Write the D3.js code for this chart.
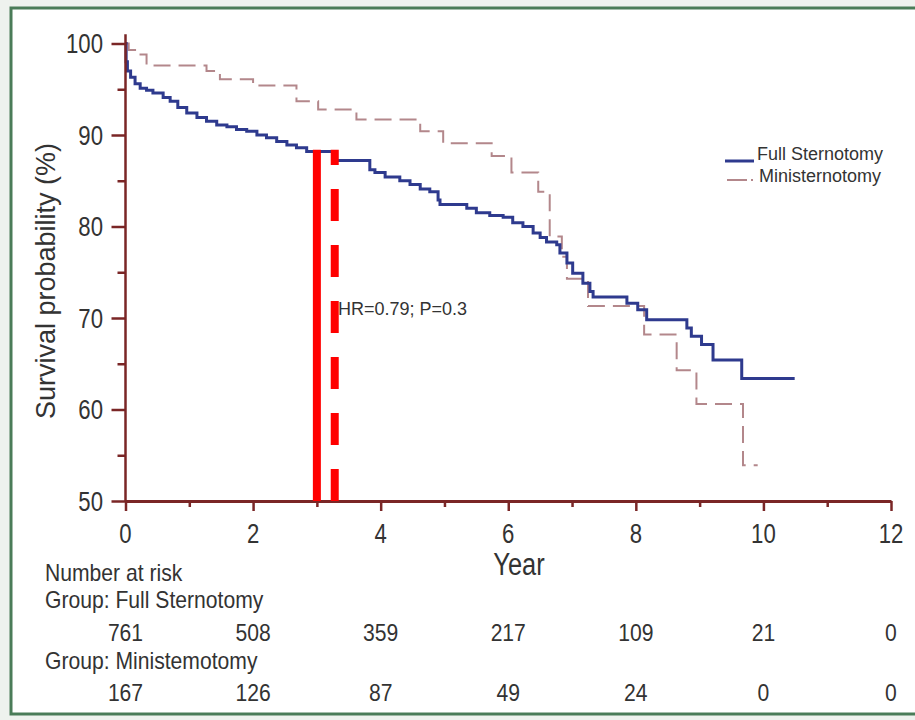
<!DOCTYPE html>
<html>
<head>
<meta charset="utf-8">
<script src="https://cdn.jsdelivr.net/npm/d3@7"></script>
<style>
  html, body { margin: 0; padding: 0; background: #eef2ee; }
  svg { display: block; }
  text { font-family: "Liberation Sans", Arial, sans-serif; fill: #333; }
</style>
</head>
<body>
<svg id="chart" width="915" height="720"></svg>
<script>
// Kaplan-Meier step points: year of each step and survival (%) after it
const fullYears = [0, 0.01, 0.03, 0.08, 0.15, 0.23, 0.33, 0.43, 0.59, 0.70, 0.82, 0.96, 1.12, 1.27, 1.43, 1.59,
  1.74, 1.90, 2.06, 2.21, 2.37, 2.53, 2.68, 2.84, 3.31, 3.83, 3.91, 4.07, 4.30, 4.46, 4.62, 4.77, 4.90, 4.93,
  5.35, 5.50, 5.71, 5.92, 6.07, 6.23, 6.39, 6.50, 6.60, 6.76, 6.81, 6.92, 7.01, 7.17, 7.28, 7.33, 7.86, 8.03,
  8.17, 8.80, 8.87, 9.03, 9.21, 9.66, 10.49];
const fullSurvival = [100, 98.0, 97.0, 96.3, 95.6, 95.1, 94.9, 94.6, 94.1, 93.7, 93.0, 92.4, 91.9, 91.5, 91.1, 90.9,
  90.6, 90.4, 90.0, 89.7, 89.3, 88.9, 88.6, 88.2, 87.2, 86.2, 85.9, 85.4, 85.0, 84.6, 84.1, 83.8, 82.9, 82.4,
  82.0, 81.5, 81.2, 81.0, 80.4, 80.0, 79.3, 78.8, 78.3, 78.0, 77.1, 76.0, 74.9, 73.8, 72.9, 72.3, 71.6, 70.9,
  69.8, 68.9, 68.0, 67.1, 65.4, 63.4, 63.4];

const miniYears = [0, 0.05, 0.15, 0.33, 1.27, 1.48, 2.00, 2.68, 3.02, 3.62, 4.62, 4.98, 5.74, 6.05, 6.47,
  6.65, 6.84, 6.92, 7.25, 8.13, 8.64, 8.95, 9.68, 9.91];
const miniSurvival = [100, 99.3, 98.8, 97.6, 97.0, 96.1, 95.4, 93.7, 92.8, 91.7, 90.4, 89.1, 87.7, 85.9, 83.8,
  78.9, 76.7, 74.3, 71.3, 68.2, 64.3, 60.6, 53.9, 53.9];

const groupNames = ["Full Sternotomy", "Ministernotomy"];
const xTicks = [0, 2, 4, 6, 8, 10, 12];
const xMinorTicks = [1, 3, 5, 7, 9, 11];
const yTicks = [50, 60, 70, 80, 90, 100];
const yMinorTicks = [55, 65, 75, 85, 95];

// Number at risk at each major year tick
const riskFull = [761, 508, 359, 217, 109, 21, 0];
const riskMini = [167, 126, 87, 49, 24, 0, 0];
const riskLabels = ["Number at risk", "Group: Full Sternotomy", "Group: Ministemotomy"];

// Marker lines (year) reaching up to the survival level refTop
const refYears = [3.0, 3.28];
const refTop = 88.4;
const hrText = "HR=0.79; P=0.3";

const svg = d3.select("#chart");
const axisColor = "#7a2626";
const fullColor = "#2e3a8e";
const miniColor = "#b3878b";

// squeeze a text element horizontally to a narrow face
function condense(sel, f) {
  sel.each(function () {
    const w = this.getComputedTextLength();
    this.setAttribute("textLength", w * f);
    this.setAttribute("lengthAdjust", "spacingAndGlyphs");
  });
}

// frame
svg.append("rect").attr("x", 11).attr("y", 8).attr("width", 920).attr("height", 706)
  .attr("fill", "#ffffff").attr("stroke", "#4a7c58").attr("stroke-width", 3);

const x = d3.scaleLinear().domain([0, 12]).range([125.5, 891]);
const y = d3.scaleLinear().domain([50, 100]).range([501, 43.5]);

// curves
const line = d3.line().x(d => x(d[0])).y(d => y(d[1])).curve(d3.curveStepAfter);
const miniData = miniYears.map((t, i) => [t, miniSurvival[i]]);
const fullData = fullYears.map((t, i) => [t, fullSurvival[i]]);

svg.append("path").datum(miniData).attr("d", line)
  .attr("fill", "none").attr("stroke", miniColor).attr("stroke-width", 2)
  .attr("stroke-dasharray", "17,8");
svg.append("path").datum(fullData).attr("d", line)
  .attr("fill", "none").attr("stroke", fullColor).attr("stroke-width", 3);

// axes
const gx = svg.append("g").attr("transform", `translate(0,${y(50)})`);
gx.call(d3.axisBottom(x).tickValues(xTicks).tickSize(10).tickSizeOuter(0).tickFormat(""));
const gxm = svg.append("g").attr("transform", `translate(0,${y(50)})`);
gxm.call(d3.axisBottom(x).tickValues(xMinorTicks).tickSize(6).tickSizeOuter(0).tickFormat(""));
gxm.select(".domain").remove();

const gy = svg.append("g").attr("transform", `translate(${x(0)},0)`);
gy.call(d3.axisLeft(y).tickValues(yTicks).tickSize(14).tickSizeOuter(0).tickFormat(""));
gy.select(".domain").remove();
const gym = svg.append("g").attr("transform", `translate(${x(0)},0)`);
gym.call(d3.axisLeft(y).tickValues(yMinorTicks).tickSize(8).tickSizeOuter(0).tickFormat(""));
gym.select(".domain").remove();
svg.append("line").attr("x1", x(0)).attr("x2", x(0)).attr("y1", y(50)).attr("y2", y(101))
  .attr("stroke", axisColor).attr("stroke-width", 2.5);

svg.selectAll(".domain, .tick line").attr("stroke", axisColor).attr("stroke-width", 2.5);
gx.select(".domain").attr("stroke-width", 3);

// tick labels
const xl = svg.append("g").selectAll("text").data(xTicks).join("text")
  .attr("x", d => x(d)).attr("y", 543).attr("text-anchor", "middle")
  .attr("font-size", 27).text(d => d);
condense(xl, 0.82);
const yl = svg.append("g").selectAll("text").data(yTicks).join("text")
  .attr("x", 103).attr("y", d => y(d)).attr("dy", "0.36em").attr("text-anchor", "end")
  .attr("font-size", 27).text(d => d);
condense(yl, 0.82);

// axis titles
const xt = svg.append("text").attr("x", 519).attr("y", 575).attr("text-anchor", "middle")
  .attr("font-size", 31).text("Year");
condense(xt, 0.82);
svg.append("text").attr("transform", `translate(55,281) rotate(-90)`).attr("text-anchor", "middle")
  .attr("font-size", 27).text("Survival probability (%)");

// reference lines, drawn from the axis upward
svg.append("g").selectAll("line").data(refYears).join("line")
  .attr("x1", d => x(d)).attr("x2", d => x(d))
  .attr("y1", y(50)).attr("y2", y(refTop))
  .attr("stroke", "#ff0000").attr("stroke-width", 8)
  .attr("stroke-dasharray", (d, i) => i === 0 ? null : "32,24");

svg.append("text").attr("x", 338).attr("y", 315).attr("font-size", 18).attr("fill", "#444")
  .text(hrText);

// legend
const lg = svg.append("g");
lg.append("line").attr("x1", 725).attr("x2", 754).attr("y1", 161).attr("y2", 161)
  .attr("stroke", fullColor).attr("stroke-width", 3);
lg.append("line").attr("x1", 727).attr("x2", 753).attr("y1", 180).attr("y2", 180)
  .attr("stroke", miniColor).attr("stroke-width", 2).attr("stroke-dasharray", "20,4,2,4");
lg.selectAll("text").data(groupNames).join("text")
  .attr("x", (d, i) => i === 0 ? 757 : 759)
  .attr("y", (d, i) => i === 0 ? 160 : 182)
  .attr("font-size", 18).attr("fill", "#444")
  .text(d => d);

// number-at-risk table
const rl = svg.append("g").selectAll("text").data(riskLabels).join("text")
  .attr("x", 45).attr("y", (d, i) => [581, 608, 669][i])
  .attr("font-size", 24).text(d => d);
condense(rl, 0.88);
const rows = [riskFull, riskMini];
rows.forEach((row, r) => {
  const t = svg.append("g").selectAll("text").data(row).join("text")
    .attr("x", (d, i) => x(xTicks[i])).attr("y", [641, 701][r])
    .attr("text-anchor", "middle").attr("font-size", 24).text(d => d);
  condense(t, 0.88);
});
</script>
</body>
</html>
